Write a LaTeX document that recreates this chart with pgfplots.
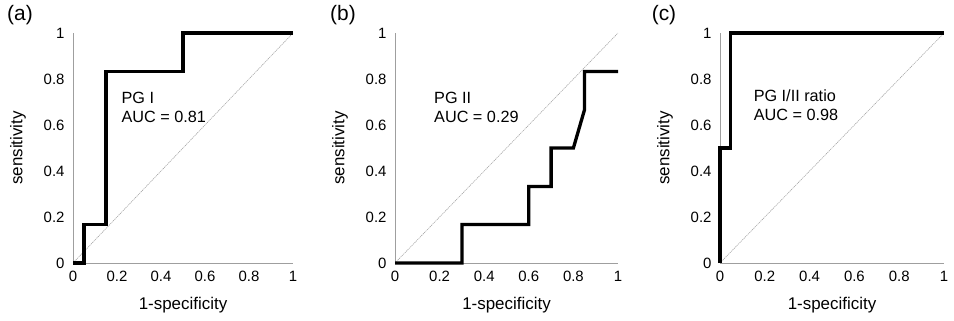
\documentclass[border=0pt]{standalone}
\usepackage{pgfplots}
\pgfplotsset{compat=1.18}
\usepackage{fontspec}
\setmainfont{Liberation Sans}
\pgfplotsset{
  roc/.style={
    scale only axis, width=220bp, height=230bp,
    anchor=south west,
    xmin=0, xmax=1, ymin=0, ymax=1,
    axis lines=left,
    axis line style={-, gray!75, line width=0.9bp},
    xtick={0,0.2,0.4,0.6,0.8,1},
    ytick={0,0.2,0.4,0.6,0.8,1},
    major tick length=0pt,
    tick label style={font=\fontsize{15}{16}\selectfont},
    /pgf/number format/assume math mode=true,
    xticklabel style={yshift=-5bp},
    yticklabel style={xshift=-5bp},
    clip=false,
    xlabel={1-specificity}, ylabel={sensitivity},
    every axis x label/.style={at={(axis description cs:0.5,0)}, anchor=center, yshift=-42bp, font=\fontsize{17}{18}\selectfont},
    every axis y label/.style={at={(axis description cs:0,0.5)}, anchor=center, xshift=-55bp, rotate=90, font=\fontsize{17}{18}\selectfont},
  },
  diag/.style={gray!70, line width=0.6bp, dash pattern=on 1.2bp off 0.8bp},
  curve/.style={black, line width=3.3bp, line join=miter},
}
\begin{document}
\begin{tikzpicture}
\useasboundingbox (0,0) rectangle (954bp,321bp);
% (a)
\begin{axis}[roc, at={(73bp,58bp)}]
\addplot[diag] coordinates {(0,0) (1,1)};
\addplot[curve] coordinates {(0,0) (0.05,0) (0.05,0.167) (0.15,0.167) (0.15,0.833) (0.5,0.833) (0.5,1) (1,1)};
\node[anchor=west, align=left, font=\fontsize{16.3}{19}\selectfont] at (axis cs:0.205,0.678) {PG I\\AUC = 0.81};
\end{axis}
% (b)
\begin{axis}[roc, at={(395bp,58bp)}, width=223bp]
\addplot[diag] coordinates {(0,0) (1,1)};
\addplot[curve] coordinates {(0,0) (0.3,0) (0.3,0.167) (0.6,0.167) (0.6,0.333) (0.7,0.333) (0.7,0.5) (0.8,0.5) (0.85,0.667) (0.85,0.833) (1,0.833)};
\node[anchor=west, align=left, font=\fontsize{16.3}{19}\selectfont] at (axis cs:0.16,0.678) {PG II\\AUC = 0.29};
\end{axis}
% (c)
\begin{axis}[roc, at={(720bp,58bp)}, width=224bp]
\addplot[diag] coordinates {(0,0) (1,1)};
\addplot[curve] coordinates {(0,0) (0,0.5) (0.048,0.5) (0.048,1) (1,1)};
\node[anchor=west, align=left, font=\fontsize{16.3}{19}\selectfont] at (axis cs:0.135,0.685) {PG I/II ratio\\AUC = 0.98};
\end{axis}
\node[font=\fontsize{21}{23}\selectfont] at (20bp,306bp) {(a)};
\node[font=\fontsize{21}{23}\selectfont] at (343bp,306bp) {(b)};
\node[font=\fontsize{21}{23}\selectfont] at (664bp,306bp) {(c)};
\end{tikzpicture}
\end{document}
